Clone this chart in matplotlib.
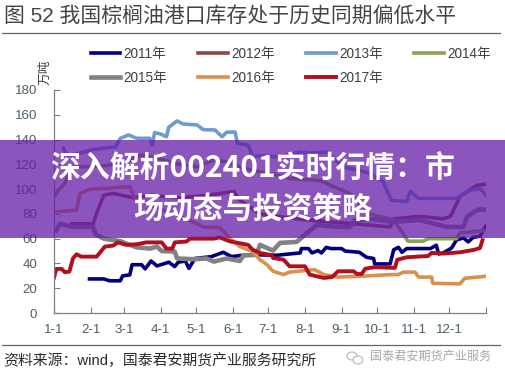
import matplotlib
matplotlib.use('Agg')
import matplotlib.pyplot as plt
from matplotlib.patches import Rectangle, Ellipse
from matplotlib.lines import Line2D

plt.rcParams['font.family'] = ['Liberation Sans', 'Noto Sans CJK SC']

# dias del año y valores (万吨)
days_2011 = [30, 42, 47, 56, 58, 64, 66, 74, 77, 82, 87, 97, 102, 105, 111, 114, 119, 133, 143, 150, 157, 171, 188, 208, 209, 215, 218, 223, 226, 230, 234, 243, 246, 258, 264, 270, 271, 284, 287, 291, 294, 298, 318, 323, 325, 329, 336, 340, 346, 350, 354, 360, 363, 365]
vals_2011 = [27.5, 27.5, 26, 26, 30, 30.7, 39, 39, 35.6, 42, 38, 41, 37.5, 41, 42, 36, 44, 45.5, 49, 45.5, 46.4, 47, 46.6, 48.5, 52, 52, 48.5, 50.4, 48.5, 53, 52, 52, 50, 49, 45, 44, 39.6, 39.6, 51, 53, 49, 52, 52, 54.7, 47.7, 48.5, 52.5, 59, 60.6, 57.4, 61, 62, 67.4, 70]

days_2012 = [15, 33, 37, 42, 50, 67, 81, 106, 129, 152, 157, 174, 191, 216, 240, 267, 284, 287, 309, 329, 335, 343, 357, 365]
vals_2012 = [72, 72, 83, 95, 96.5, 93, 95, 93, 95, 98, 91, 80, 77.6, 75, 73, 71, 69.5, 76, 78, 76, 78, 94, 103, 104]

days_2013 = [8, 11, 16, 25, 33, 42, 52, 56, 63, 70, 81, 83, 85, 90, 95, 97, 104, 109, 121, 126, 136, 142, 146, 153, 155, 164, 168, 174, 191, 208, 216, 230, 236, 244, 258, 267, 278, 285, 298, 301, 308, 318, 340, 344, 351, 360, 365]
vals_2013 = [133, 127.5, 127.5, 130, 132, 133, 134, 141, 143.7, 141, 141, 135.6, 145.6, 144.5, 142.3, 150, 155, 152.6, 151.8, 148, 147.7, 142.3, 146, 146, 137, 135.6, 126, 127, 126, 130, 129, 130, 125, 118, 115, 112.7, 106, 91, 90, 98, 92.5, 92.5, 92.5, 95, 99, 100.5, 95]

days_2014 = [1, 5, 9, 13.5, 19, 30, 44.5, 56, 67, 73, 84, 101, 121, 135, 146, 157, 168, 182, 199, 225, 236, 250, 267, 287, 295, 299, 312, 316, 340, 343, 363]
vals_2014 = [95, 100.5, 104.6, 115, 118, 118, 119, 120.8, 124.8, 127.5, 126, 120.8, 118, 123.5, 122, 118, 115, 112.7, 108.6, 107, 102, 96.5, 80, 75, 64, 58, 58, 60, 60, 64.7, 66.5]

days_2015 = [2, 5, 16, 33, 35, 42, 56, 61, 70, 81, 87, 91, 102, 104, 118, 129, 135, 146, 157, 160, 171, 174, 185, 191, 205, 209, 218, 222, 239, 250, 254, 267, 287, 309, 332, 346, 349, 355, 359, 365]
vals_2015 = [66.8, 72, 69.5, 69.5, 63.6, 60, 58, 56, 53, 52, 53.6, 50, 49.6, 44, 43.4, 44, 41.5, 44, 42, 46.4, 47, 55, 50.4, 56.6, 57.4, 60.6, 68, 71, 69.5, 69.5, 75, 76, 73.6, 75, 69.5, 69.5, 77.6, 81.7, 83.5, 83.5]

days_2016 = [1, 19, 22, 30, 64, 68, 95, 121, 126, 140, 149, 157, 168, 174, 180, 185, 194, 199, 220, 228, 240, 258, 285, 291, 295, 305, 308, 319, 320, 343, 347, 364]
vals_2016 = [81.7, 83, 96.5, 99.7, 102, 92.5, 82, 72, 69.5, 69, 60, 53.6, 49.6, 43, 39, 33.7, 31, 33, 35, 31, 29, 29.6, 31, 31, 33, 33, 29, 29, 24, 23.5, 28, 29.6]

days_2017 = [0, 2, 6.5, 9, 13, 16, 19, 23, 36, 39, 43, 50, 54, 61, 70, 78, 91, 95, 100, 102, 112, 115, 135, 140, 149, 157, 164, 168, 174, 184, 185, 194, 199, 212, 216, 228, 235, 240, 253, 256, 260, 263, 271, 288, 290, 298, 316, 319, 329, 343, 355, 360, 362]
vals_2017 = [28.6, 35.6, 35.6, 33, 33.4, 44, 47.4, 45.5, 45.5, 49, 53.6, 54.4, 57, 55, 55.5, 57, 57, 52, 52, 57, 57.7, 60, 60, 61, 57.7, 56.3, 55, 51, 48.5, 46.6, 44.5, 43, 37.7, 37.7, 31, 28.3, 29, 33.7, 33.7, 31.5, 31.5, 35.8, 37, 36.4, 43, 45, 46, 48.5, 48, 49, 51, 52.5, 58.8]

tick_days = [0, 31, 59, 90, 120, 151, 181, 212, 243, 273, 304, 334, 365]
tick_labels = ['1-1', '2-1', '3-1', '4-1', '5-1', '6-1', '7-1', '8-1', '9-1', '10-1', '11-1', '12-1']
y_ticks = [0, 20, 40, 60, 80, 100, 120, 140, 160, 180]

W, H = 505, 379
fig = plt.figure(figsize=(W / 100, H / 100), dpi=100)
ax = fig.add_axes([54 / W, 1 - 313 / H, 432 / W, 223 / H])

series = [
    ('2011年', days_2011, vals_2011, '#00007E', 2.6),
    ('2012年', days_2012, vals_2012, '#8F4745', 2.6),
    ('2013年', days_2013, vals_2013, '#6B9BD0', 2.6),
    ('2014年', days_2014, vals_2014, '#8BA355', 2.6),
    ('2015年', days_2015, vals_2015, '#828282', 3.3),
    ('2016年', days_2016, vals_2016, '#D8914F', 2.6),
    ('2017年', days_2017, vals_2017, '#B20F1C', 2.8),
]
handles = {}
for name, d, v, c, lw in series:
    handles[name], = ax.plot(d, v, color=c, lw=lw, label=name, solid_joinstyle='round')

ax.set_xlim(0, 365)
ax.set_ylim(0, 180)
ax.set_yticks(y_ticks)
ax.set_xticks(tick_days)
ax.set_xticklabels(tick_labels + [''])
for s in ['top', 'right']:
    ax.spines[s].set_visible(False)
for s in ['left', 'bottom']:
    ax.spines[s].set_color('#808080')
    ax.spines[s].set_linewidth(0.9)
ax.tick_params(axis='y', direction='in', length=4, width=0.8, color='#808080', labelsize=9.6, labelcolor='#4f5f66', pad=12)
ax.tick_params(axis='x', direction='in', length=4, width=0.8, color='#808080', labelsize=9.6, labelcolor='#4f5f66', pad=8)

order = ['2011年', '2015年', '2012年', '2016年', '2013年', '2017年', '2014年']
leg = ax.legend([handles[n] for n in order], order, ncol=4, frameon=False, loc='upper left',
                bbox_to_anchor=(90.5 / W, 1 - 47 / H), bbox_transform=fig.transFigure,
                fontsize=9.8, labelcolor='#404040', borderpad=0, borderaxespad=0,
                handlelength=2.2, handletextpad=0.25, columnspacing=2.25, labelspacing=0.72)

fig.text(4 / W, 1 - 17 / H, '图 52 我国棕榈油港口库存处于历史同期偏低水平', fontsize=15, color='#444444', va='center', ha='left')
fig.text(45 / W, 1 - 72 / H, '万吨', fontsize=9.2, color='#404040', rotation=90, va='center', ha='center')
fig.text(3 / W, 1 - 361 / H, '资料来源：wind，国泰君安期货产业服务研究所', fontsize=10.7, color='#2b2b2b', va='center', ha='left')
fig.text(370 / W, 1 - 357 / H, '国泰君安期货产业服务', fontsize=8.7, color='#a8a8a8', va='center', ha='left')

fig.add_artist(Line2D([2 / W, 500 / W], [1 - 32.5 / H] * 2, color='#666666', lw=0.9))
fig.add_artist(Line2D([2 / W, 500 / W], [1 - 345 / H] * 2, color='#666666', lw=0.9))

# icono de wechat de la marca de agua
fig.add_artist(Ellipse((352 / W, 1 - 356 / H), 10 / W, 8 / H, fill=False, ec='#b5b5b5', lw=0.8))
fig.add_artist(Ellipse((358 / W, 1 - 360 / H), 10 / W, 8 / H, fc='white', ec='#b5b5b5', lw=0.8))

# banda morada encima del grafico
fig.add_artist(Rectangle((0, 1 - 238 / H), 1, 98 / H, transform=fig.transFigure, fc='#661CA8', ec='none', alpha=0.75, zorder=5))
fig.text(253 / W, 1 - 169 / H, '深入解析002401实时行情：市', fontsize=21.5, fontweight='bold', color='white',
         family=['Noto Sans CJK SC'], ha='center', va='center', zorder=6)
fig.text(253 / W, 1 - 209 / H, '场动态与投资策略', fontsize=21.5, fontweight='bold', color='white',
         family=['Noto Sans CJK SC'], ha='center', va='center', zorder=6)

fig.savefig('out.png', dpi=100)
